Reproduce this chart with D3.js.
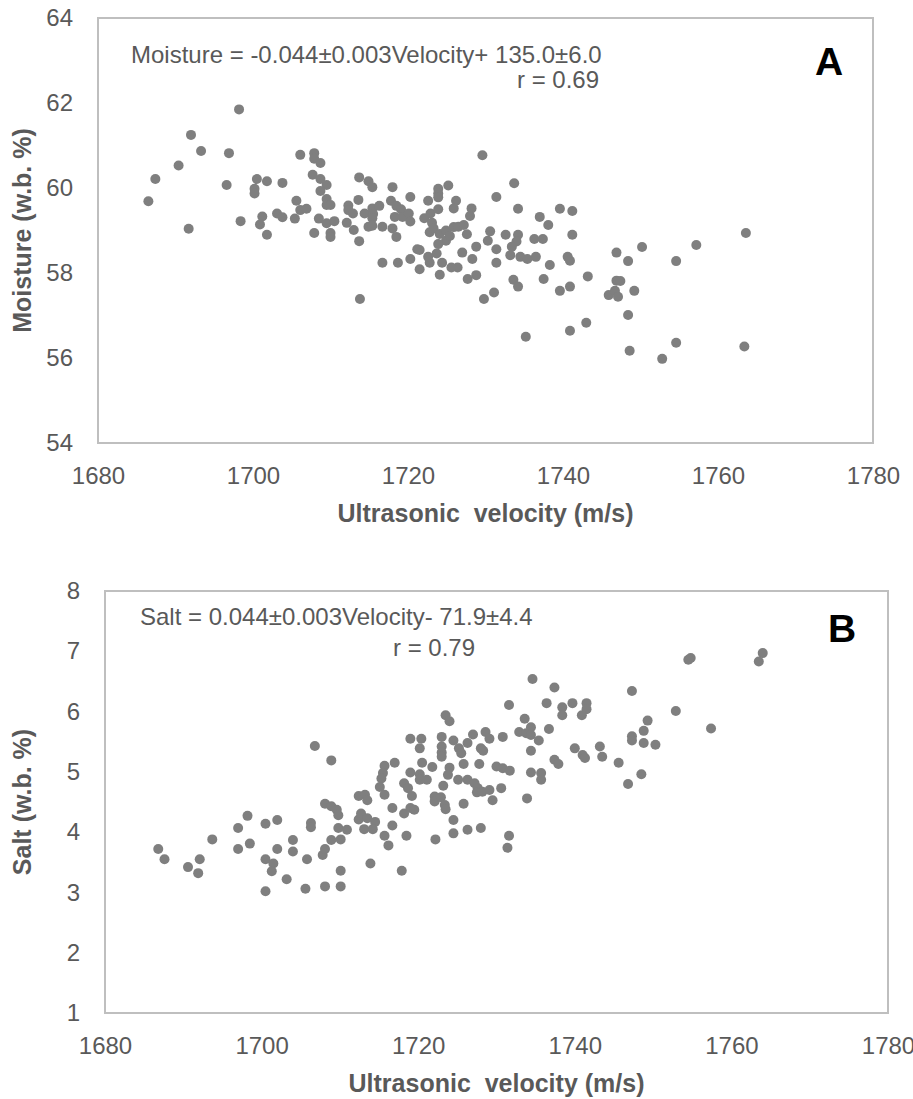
<!DOCTYPE html>
<html>
<head>
<meta charset="utf-8">
<script src="https://cdn.jsdelivr.net/npm/d3@7"></script>
<style>
    body { margin: 0; background: #fff; }
    text { font-family: "Liberation Sans", Arial, sans-serif; }
</style>
</head>
<body>
<div id="graph"></div>
<script>
// x axis ticks (same for both panels)
var velocityTicks = [1680, 1700, 1720, 1740, 1760, 1780];
var moistureTicks = [54, 56, 58, 60, 62, 64];
var saltTicks = [1, 2, 3, 4, 5, 6, 7, 8];

// panel A : velocity / moisture
var velocityA = [
    1698.2, 1692.0, 1693.3, 1696.9, 1690.4, 1687.4, 1686.5, 1691.7, 1696.6, 1698.4,
    1700.5, 1701.8, 1700.2, 1700.2, 1703.8, 1701.2, 1700.9, 1701.8, 1703.1, 1703.8,
    1705.6, 1706.1, 1706.9, 1705.4, 1706.1, 1707.9, 1707.9, 1708.7, 1707.7, 1708.7,
    1709.5, 1708.7, 1709.5, 1709.5, 1710.0, 1708.5, 1709.5, 1710.5, 1707.9, 1710.0,
    1710.0, 1712.3, 1712.3, 1712.9, 1712.1, 1713.0, 1713.7, 1713.8, 1713.7, 1713.6,
    1729.6, 1714.9, 1715.4, 1718.0, 1720.3, 1723.9, 1723.9, 1723.9, 1725.2, 1722.6,
    1726.2, 1714.4, 1715.4, 1716.3, 1715.5, 1715.4, 1714.9, 1715.4, 1716.7, 1717.8,
    1718.5, 1719.1, 1718.3, 1719.3, 1720.1, 1720.3, 1718.0, 1718.5, 1716.7, 1718.7,
    1722.1, 1722.9, 1723.1, 1723.9, 1722.8, 1723.3, 1724.1, 1724.9, 1724.9, 1725.4,
    1725.9, 1726.5, 1727.2, 1723.9, 1723.7, 1725.9, 1728.2, 1728.0, 1727.6, 1728.8,
    1728.3, 1727.0, 1726.4, 1725.6, 1724.4, 1724.1, 1722.8, 1722.6, 1721.5, 1721.2,
    1721.5, 1720.3, 1727.7, 1728.8, 1729.8, 1731.1, 1731.4, 1731.4, 1730.3, 1730.6,
    1731.4, 1732.6, 1733.7, 1734.2, 1734.2, 1734.0, 1733.4, 1733.2, 1734.5, 1735.4,
    1736.5, 1736.3, 1737.4, 1737.0, 1738.1, 1739.6, 1741.2, 1741.2, 1740.6, 1740.9,
    1738.3, 1737.5, 1733.6, 1734.2, 1739.6, 1740.9, 1743.2, 1735.2, 1740.9, 1743.0,
    1746.9, 1746.9, 1745.9, 1746.7, 1763.6, 1757.2, 1750.2, 1748.4, 1754.6, 1747.4,
    1747.1, 1749.2, 1748.4, 1748.6, 1752.8, 1754.6, 1763.4
];
var moistureA = [
    61.85, 61.25, 60.87, 60.82, 60.53, 60.21, 59.69, 59.04, 60.07, 59.22,
    60.21, 60.16, 59.98, 59.87, 60.12, 59.33, 59.14, 58.90, 59.40, 59.31,
    59.70, 59.48, 59.51, 59.28, 60.78, 60.82, 60.69, 60.59, 60.31, 60.21,
    60.07, 59.93, 59.74, 59.60, 59.60, 59.28, 59.17, 59.22, 58.94, 58.94,
    58.85, 59.59, 59.48, 59.40, 59.18, 59.01, 58.75, 57.39, 60.25, 59.72,
    60.77, 60.16, 60.02, 60.02, 59.79, 59.98, 59.87, 59.78, 60.06, 59.70,
    59.70, 59.40, 59.52, 59.58, 59.39, 59.29, 59.09, 59.11, 59.09, 59.70,
    59.58, 59.50, 59.32, 59.32, 59.40, 59.21, 59.05, 58.85, 58.24, 58.24,
    59.29, 59.40, 59.18, 59.50, 58.96, 59.05, 58.92, 59.00, 58.76, 58.87,
    59.08, 59.09, 59.13, 58.68, 58.46, 59.52, 59.52, 59.34, 58.91, 58.62,
    58.33, 58.48, 58.13, 58.13, 58.24, 57.96, 58.24, 58.38, 58.09, 58.56,
    58.54, 58.33, 57.86, 57.95, 57.39, 57.54, 58.24, 58.56, 58.76, 58.98,
    59.79, 58.90, 60.11, 59.51, 58.90, 58.74, 58.62, 58.42, 58.38, 58.33,
    58.38, 58.80, 58.80, 59.32, 59.13, 59.51, 59.46, 58.90, 58.38, 58.29,
    58.19, 57.86, 57.84, 57.68, 57.58, 57.68, 57.92, 56.50, 56.64, 56.83,
    58.48, 57.82, 57.48, 57.58, 58.94, 58.66, 58.61, 58.28, 58.28, 57.81,
    57.44, 57.58, 57.01, 56.17, 55.98, 56.36, 56.27
];

// panel B : velocity / salt
var velocityB = [
    1686.8, 1687.6, 1690.6, 1691.9, 1692.1, 1693.7, 1697.0, 1698.2, 1697.0, 1698.5,
    1700.5, 1702.0, 1700.5, 1701.5, 1701.3, 1700.5, 1702.0, 1703.2, 1704.0, 1704.0,
    1705.8, 1705.6, 1706.3, 1706.3, 1708.1, 1710.1, 1710.1, 1707.8, 1708.1, 1708.9,
    1710.1, 1709.8, 1710.9, 1708.1, 1708.9, 1709.6, 1709.8, 1708.9, 1706.8,
    1734.6, 1737.4, 1731.6, 1736.4, 1738.4, 1739.7, 1741.5, 1741.5, 1738.4, 1740.9,
    1733.6, 1734.4, 1732.9, 1733.8, 1734.4, 1735.4, 1736.7, 1734.4, 1730.8, 1728.6,
    1729.1, 1727.0, 1726.3, 1728.0, 1728.3, 1723.5, 1724.0, 1724.5, 1725.2, 1725.5,
    1723.0, 1723.0, 1723.0, 1723.0, 1720.4, 1719.0, 1720.2, 1720.5, 1721.8, 1719.0,
    1717.0, 1715.7, 1715.5, 1715.3, 1715.1, 1715.7, 1718.2, 1718.7, 1719.2, 1720.2,
    1720.2, 1721.1, 1724.0, 1723.8, 1725.1, 1723.2, 1725.8, 1727.8, 1726.3, 1727.2,
    1727.6, 1727.5, 1728.2, 1729.1, 1729.5, 1730.6, 1730.0, 1730.8, 1731.7, 1734.4,
    1735.7, 1735.7, 1733.9, 1737.4, 1737.9, 1740.0, 1741.0, 1741.3, 1743.2, 1743.5,
    1745.6, 1722.1, 1722.1, 1722.9, 1723.4, 1723.5, 1725.8, 1724.5, 1724.5, 1726.3,
    1728.0, 1731.6, 1731.4, 1722.2, 1718.5, 1716.2, 1715.7, 1716.7, 1716.7, 1718.2,
    1719.0, 1719.5, 1717.9, 1713.9, 1712.4, 1713.2, 1713.5, 1712.4, 1712.7, 1713.5,
    1714.5, 1714.2, 1713.1,
    1754.8, 1754.5, 1764.0, 1763.5, 1747.3, 1752.9, 1749.3, 1748.8, 1747.3, 1747.3,
    1748.8, 1750.3, 1757.4, 1748.5, 1746.8
];
var saltB = [
    3.72, 3.55, 3.42, 3.32, 3.55, 3.88, 4.07, 4.27, 3.72, 3.81,
    4.14, 4.20, 3.55, 3.48, 3.35, 3.02, 3.72, 3.22, 3.87, 3.68,
    3.55, 3.06, 4.15, 4.08, 3.10, 3.10, 3.36, 3.62, 3.72, 3.87,
    3.88, 4.07, 4.04, 4.47, 4.43, 4.37, 4.28, 5.19, 5.43,
    6.54, 6.40, 6.11, 6.14, 6.07, 6.14, 6.14, 6.04, 5.94, 5.94,
    5.88, 5.74, 5.66, 5.64, 5.61, 5.52, 5.71, 5.35, 5.58, 5.66,
    5.55, 5.62, 5.48, 5.39, 5.35, 5.94, 5.84, 5.52, 5.39, 5.31,
    5.58, 5.42, 5.32, 5.25, 5.55, 5.55, 5.39, 5.15, 5.08, 4.99,
    5.15, 5.10, 4.98, 4.89, 4.75, 4.62, 4.81, 4.73, 4.60, 4.96,
    4.87, 4.87, 5.07, 4.95, 4.87, 4.77, 5.13, 5.13, 4.87, 4.81,
    4.73, 4.66, 4.67, 4.70, 4.53, 4.73, 5.09, 5.06, 5.02, 4.99,
    4.98, 4.87, 4.56, 5.20, 5.13, 5.39, 5.28, 5.23, 5.42, 5.25,
    5.15, 4.59, 4.51, 4.58, 4.45, 4.38, 4.47, 4.20, 3.98, 4.04,
    4.07, 3.94, 3.74, 3.88, 3.94, 3.78, 3.94, 4.11, 4.40, 4.31,
    4.40, 4.37, 3.36, 3.48, 4.60, 4.62, 4.53, 4.21, 4.31, 4.23,
    4.17, 4.05, 4.05,
    6.89, 6.86, 6.97, 6.83, 6.34, 6.01, 5.85, 5.68, 5.59, 5.52,
    5.48, 5.45, 5.72, 4.96, 4.80
];

var svg = d3.select("#graph").append("svg")
    .attr("width", 913)
    .attr("height", 1099);

svg.append("rect").attr("width", 913).attr("height", 1099).attr("fill", "#fff");

// パネルA
drawPanel({
    left: 98, right: 873, top: 18, bottom: 443,
    xs: velocityA, ys: moistureA,
    yDomain: [54, 64], yTicks: moistureTicks,
    yTitle: "Moisture (w.b. %)",
    eq: "Moisture = -0.044±0.003Velocity+ 135.0±6.0", eqX: 131, eqY: 63,
    r: "r = 0.69", rX: 558, rY: 88,
    letter: "A", letterX: 829, letterY: 75
});

// パネルB
drawPanel({
    left: 105, right: 888, top: 591, bottom: 1013,
    xs: velocityB, ys: saltB,
    yDomain: [1, 8], yTicks: saltTicks,
    yTitle: "Salt (w.b. %)",
    eq: "Salt = 0.044±0.003Velocity- 71.9±4.4", eqX: 140, eqY: 625,
    r: "r = 0.79", rX: 434, rY: 656,
    letter: "B", letterX: 842, letterY: 642
});

function drawPanel(p) {
    var xScale = d3.scaleLinear().domain([1680, 1780]).range([p.left, p.right]);
    var yScale = d3.scaleLinear().domain(p.yDomain).range([p.bottom, p.top]);

    //枠
    svg.append("rect")
        .attr("x", p.left).attr("y", p.top)
        .attr("width", p.right - p.left).attr("height", p.bottom - p.top)
        .attr("fill", "none")
        .attr("stroke", "#bfbfbf")
        .attr("stroke-width", 2);

    //x軸
    var gx = svg.append("g")
        .attr("transform", "translate(0," + p.bottom + ")")
        .call(d3.axisBottom(xScale).tickValues(velocityTicks).tickSize(0).tickPadding(24).tickFormat(d3.format("d")));
    gx.select(".domain").remove();
    gx.selectAll("text")
        .attr("font-size", 24)
        .attr("font-family", "Liberation Sans, Arial, sans-serif")
        .attr("fill", "#595959");

    //y軸
    var gy = svg.append("g")
        .attr("transform", "translate(" + p.left + ",0)")
        .call(d3.axisLeft(yScale).tickValues(p.yTicks).tickSize(0).tickPadding(25).tickFormat(d3.format("d")));
    gy.select(".domain").remove();
    gy.selectAll("text")
        .attr("font-size", 24)
        .attr("font-family", "Liberation Sans, Arial, sans-serif")
        .attr("fill", "#595959");

    //軸タイトル
    svg.append("text")
        .attr("x", (p.left + p.right) / 2)
        .attr("y", p.bottom + 79)
        .attr("text-anchor", "middle")
        .attr("font-size", 25)
        .attr("font-weight", "bold")
        .attr("fill", "#595959")
        .style("white-space", "pre")
        .text("Ultrasonic  velocity (m/s)");

    svg.append("text")
        .attr("transform", "translate(31," + ((p.top + p.bottom) / 2) + ") rotate(-90)")
        .attr("text-anchor", "middle")
        .attr("font-size", 25)
        .attr("font-weight", "bold")
        .attr("fill", "#595959")
        .text(p.yTitle);

    //点
    var pts = p.xs.map(function (v, i) { return [v, p.ys[i]]; });
    svg.append("g").selectAll("circle")
        .data(pts)
        .enter()
        .append("circle")
        .attr("cx", function (d) { return xScale(d[0]); })
        .attr("cy", function (d) { return yScale(d[1]); })
        .attr("r", 5)
        .attr("fill", "#7f7f7f");

    //回帰式
    svg.append("text")
        .attr("x", p.eqX).attr("y", p.eqY)
        .attr("font-size", 24)
        .attr("fill", "#595959")
        .text(p.eq);

    svg.append("text")
        .attr("x", p.rX).attr("y", p.rY)
        .attr("text-anchor", "middle")
        .attr("font-size", 24)
        .attr("fill", "#595959")
        .text(p.r);

    svg.append("text")
        .attr("x", p.letterX).attr("y", p.letterY)
        .attr("text-anchor", "middle")
        .attr("font-size", 39)
        .attr("font-weight", "bold")
        .attr("fill", "#000")
        .text(p.letter);
}
</script>
</body>
</html>
